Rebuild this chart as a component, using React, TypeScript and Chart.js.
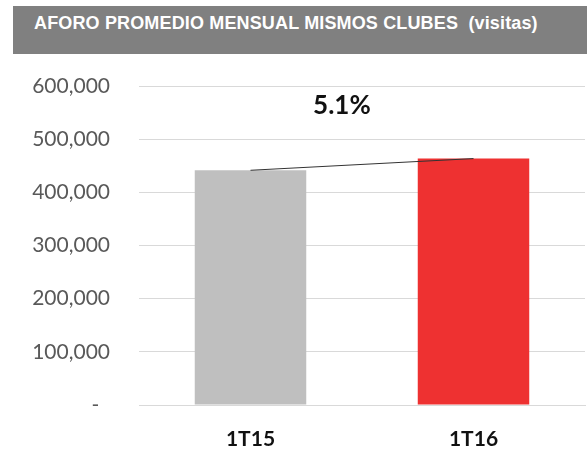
import React, { useEffect, useRef } from "react";
import { Chart, registerables } from "chart.js";

Chart.register(...registerables);

const TITLE = "AFORO PROMEDIO MENSUAL MISMOS CLUBES  (visitas)";
const CATEGORIES = ["1T15", "1T16"];
const VISITS = [441500, 463500];
const BAR_COLORS = ["#bfbfbf", "#ee3131"];
const GROWTH_LABEL = "5.1%";
const GROWTH_LABEL_POS = { index: 0.41, value: 563500 };
const Y_MIN = 0;
const Y_MAX = 600000;
const Y_STEP = 100000;

const growthLabelPlugin = {
  id: "growthLabel",
  afterDatasetsDraw(chart: any) {
    const { ctx, scales } = chart;
    const x = scales.x.getPixelForValue(GROWTH_LABEL_POS.index);
    const y = scales.y.getPixelForValue(GROWTH_LABEL_POS.value);
    ctx.save();
    ctx.font = "bold 26px Lato";
    ctx.fillStyle = "#111111";
    ctx.textAlign = "center";
    ctx.textBaseline = "middle";
    ctx.fillText(GROWTH_LABEL, x, y);
    ctx.restore();
  },
};

export default function App() {
  const canvasRef = useRef<HTMLCanvasElement | null>(null);

  useEffect(() => {
    if (!canvasRef.current) return;
    const chart = new Chart(canvasRef.current, {
      type: "bar",
      data: {
        labels: CATEGORIES,
        datasets: [
          {
            type: "line",
            data: VISITS,
            borderColor: "#333333",
            borderWidth: 1,
            pointRadius: 0,
            fill: false,
            order: 0,
          } as any,
          {
            type: "bar",
            data: VISITS,
            backgroundColor: BAR_COLORS,
            categoryPercentage: 1,
            barPercentage: 0.5,
            order: 1,
          },
        ],
      },
      options: {
        animation: false,
        responsive: false,
        layout: { padding: { top: 86, right: 2, left: 0, bottom: 0 } },
        plugins: {
          legend: { display: false },
          tooltip: { enabled: false },
          title: { display: false },
        },
        scales: {
          x: {
            grid: { display: false, drawTicks: false },
            border: { display: true, color: "#d9d9d9", width: 1 },
            ticks: {
              padding: 22,
              color: "#111111",
              font: { family: "Lato", size: 21, weight: "bold" },
            },
            afterFit(scale: any) {
              scale.height = 48;
            },
          },
          y: {
            min: Y_MIN,
            max: Y_MAX,
            grid: { color: "#d9d9d9", lineWidth: 1, drawTicks: false },
            border: { display: false },
            ticks: {
              stepSize: Y_STEP,
              padding: 29,
              color: "#595959",
              font: { family: "Lato", size: 21 },
              callback: (v: any) =>
                Number(v) === 0 ? "-  " : Number(v).toLocaleString("en-US"),
            },
            afterFit(scale: any) {
              scale.width = 139;
            },
          },
        },
      },
      plugins: [growthLabelPlugin],
    });
    return () => chart.destroy();
  }, []);

  return (
    <div
      style={{
        position: "fixed",
        left: 0,
        top: 0,
        width: 587,
        height: 453,
        background: "#ffffff",
      }}
    >
      <canvas
        ref={canvasRef}
        width={587}
        height={453}
        style={{ position: "absolute", left: 0, top: 0 }}
      />
      <div
        style={{
          position: "absolute",
          left: 13,
          top: 6,
          width: 574,
          height: 48,
          background: "#808080",
          color: "#ffffff",
          fontFamily: "'Liberation Sans', Arial, sans-serif",
          fontWeight: "bold",
          fontSize: 18,
          lineHeight: "18px",
          paddingTop: 8,
          paddingLeft: 21,
          boxSizing: "border-box",
          whiteSpace: "pre",
          letterSpacing: 0.15,
        }}
      >
        {TITLE}
      </div>
    </div>
  );
}
